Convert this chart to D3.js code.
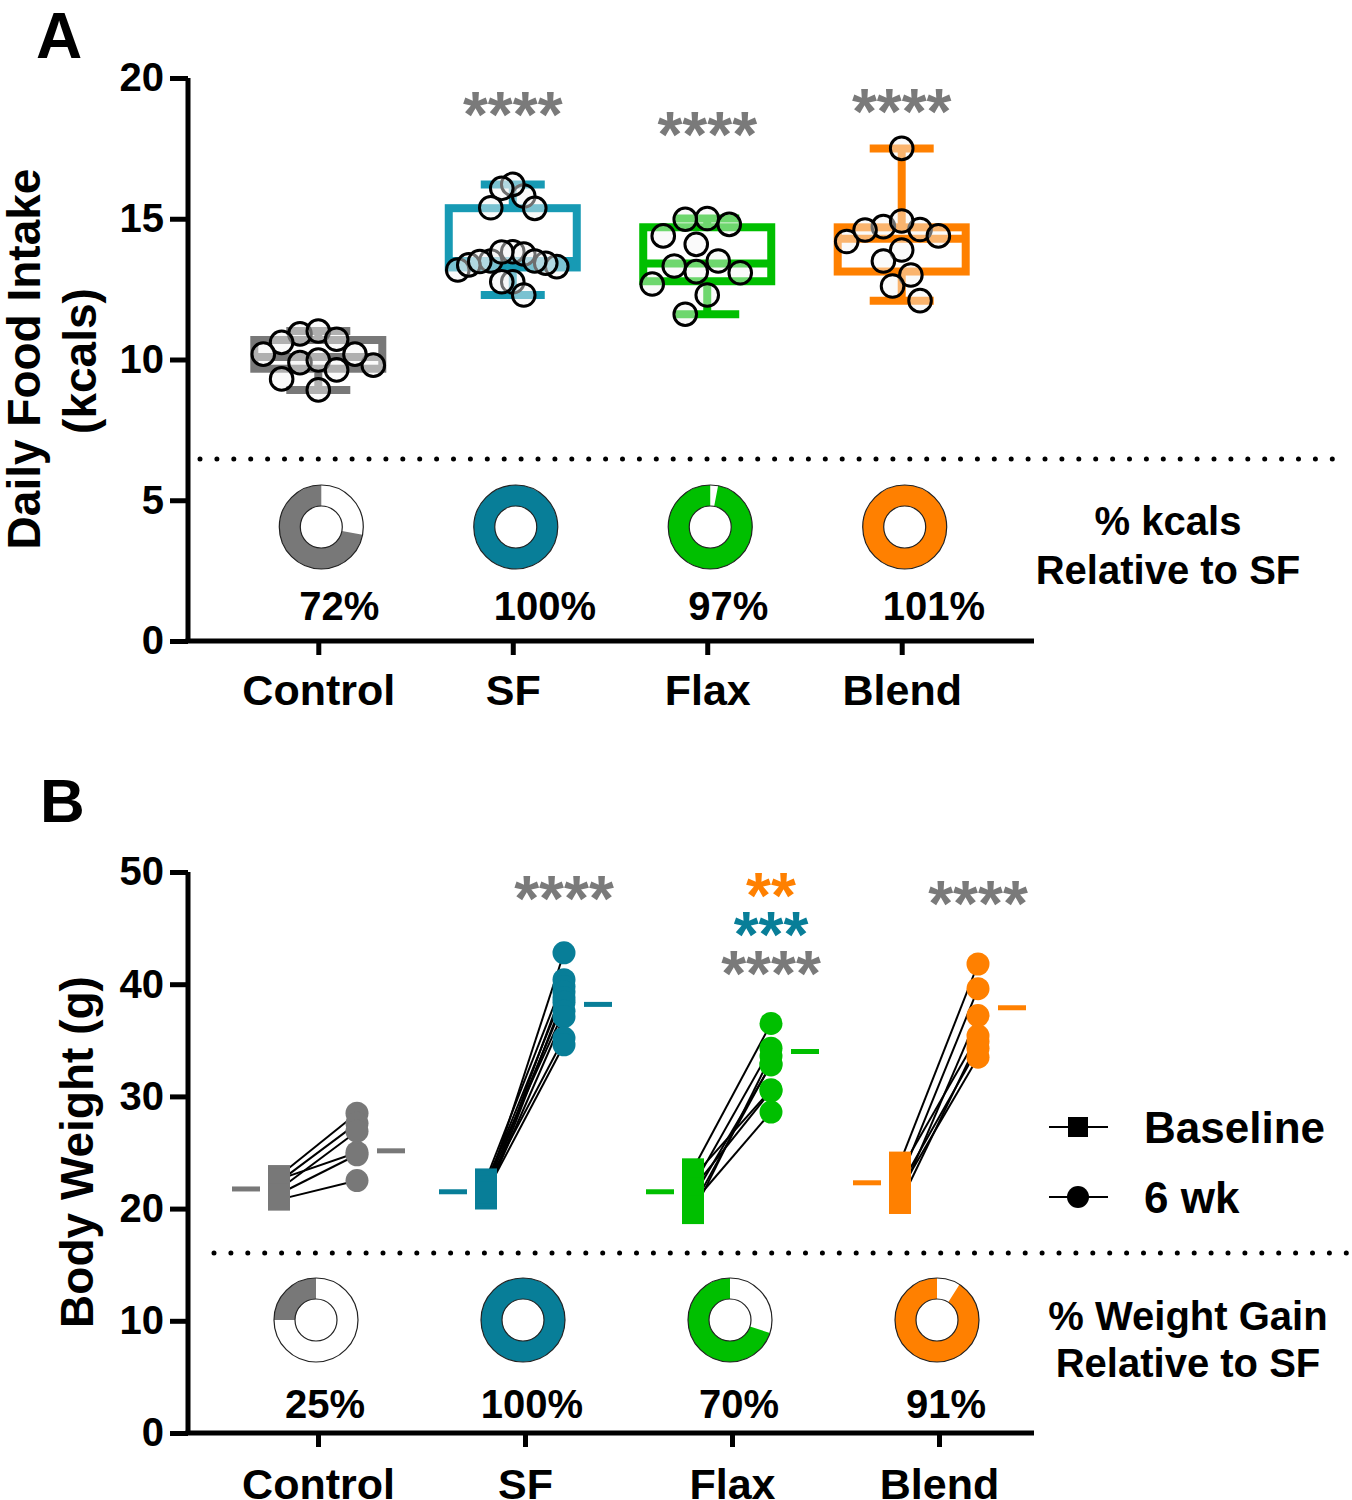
<!DOCTYPE html>
<html><head><meta charset="utf-8">
<script src="https://cdn.jsdelivr.net/npm/d3@7"></script>
<style>
body{margin:0;background:#fff}
svg{display:block}
text{font-family:"Liberation Sans",Arial,Helvetica,sans-serif;font-weight:bold}
</style>
</head><body>
<svg id="chart" width="1352" height="1500"></svg>
<script>
// ---------------- DATA ----------------
const categories = ["Control", "SF", "Flax", "Blend"];

// Panel A: daily food intake (kcals), individual animals
const intakeControl = [10.91, 11.01, 10.72, 10.61, 9.80, 10.19, 9.89, 10.19, 9.98, 9.63, 9.31, 8.92];
const intakeSF = [15.81, 16.22, 16.08, 15.39, 15.37, 13.83, 13.18, 13.30, 13.50, 13.36, 13.75, 13.82, 13.42, 13.48, 13.50, 12.76, 12.76, 12.29];
const intakeFlax = [14.80, 15.01, 14.98, 14.39, 14.09, 13.50, 13.32, 13.12, 13.08, 12.68, 12.29, 11.61];
const intakeBlend = [17.50, 14.62, 14.72, 14.92, 14.39, 14.19, 14.60, 13.89, 13.50, 13.00, 12.61, 12.09];
const intakeTicks = [0, 5, 10, 15, 20];
const kcalPercent = [72, 100, 97, 101];
const intakeStars = ["", "****", "****", "****"];
const intakeStarValue = [null, 19.04, 18.33, 19.15];

// Panel B: body weight (g), paired baseline / 6 wk
const bwBaseControl = [20.8, 22.9, 22.4, 21.7, 22.6, 21.3];
const bw6wkControl  = [22.5, 28.5, 27.6, 26.9, 25.0, 24.8];
const bwBaseSF = [21.5, 22.6, 21.0, 22.2, 20.9, 21.8, 22.4, 21.2, 22.0, 21.4];
const bw6wkSF  = [42.8, 40.4, 39.8, 39.3, 38.8, 38.4, 37.6, 37.1, 35.2, 34.6];
const bwBaseFlax = [23.5, 22.0, 19.6, 21.0, 22.8, 20.5, 21.8, 20.2];
const bw6wkFlax  = [36.5, 34.3, 33.6, 32.8, 30.6, 28.6, 30.5, 32.9];
const bwBaseBlend = [24.1, 22.5, 21.0, 23.3, 20.5, 22.0, 21.6];
const bw6wkBlend  = [41.8, 39.6, 37.2, 35.4, 34.9, 34.3, 33.5];
const bwBaseMean = [21.75, 21.5, 21.5, 22.3];
const bw6wkMean  = [25.15, 38.2, 34.0, 37.9];
const weightTicks = [0, 10, 20, 30, 40, 50];
const gainPercent = [25, 100, 70, 91];
const weightStarGroup = ["SF", "Flax", "Flax", "Flax", "Blend"];
const weightStarText  = ["****", "**", "***", "****", "****"];
const weightStarValue = [48.4, 48.66, 45.2, 41.7, 47.95];
const weightStarVs    = ["Control", "Blend", "SF", "Control", "Control"];

// ---------------- STYLE ----------------
const colA = {Control: "#787878", SF: "#179ab4", Flax: "#00bf00", Blend: "#ff8000"};
const colB = {Control: "#787878", SF: "#087e98", Flax: "#00bf00", Blend: "#ff8000"};
const starColor = {Control: "#7a7a7a", SF: "#087e98", Blend: "#ff8000"};

const svg = d3.select("#chart");
const intakeByGroup = [intakeControl, intakeSF, intakeFlax, intakeBlend];
const baseByGroup = [bwBaseControl, bwBaseSF, bwBaseFlax, bwBaseBlend];
const wk6ByGroup = [bw6wkControl, bw6wkSF, bw6wkFlax, bw6wkBlend];

// ---------------- SCALES ----------------
const yA = d3.scaleLinear().domain([0, 20]).range([641, 78]);
const xA = d3.scalePoint().domain(categories).range([188, 1032]).padding(0.67);
const yB = d3.scaleLinear().domain([0, 50]).range([1433, 872]);
const xB = d3.scalePoint().domain(categories).range([318, 939]);

function styleAxis(g, fs) {
  g.selectAll(".domain").remove();
  g.selectAll(".tick line").attr("stroke", "#000").attr("stroke-width", 5);
  g.selectAll(".tick text").attr("fill", "#000").attr("font-size", fs)
    .attr("font-family", '"Liberation Sans",Arial,sans-serif').attr("font-weight", "bold");
}

// GraphPad-like quartiles (n+1 method)
function quant(sorted, p) {
  const n = sorted.length, pos = p * (n + 1);
  if (pos <= 1) return sorted[0];
  if (pos >= n) return sorted[n - 1];
  const lo = Math.floor(pos), f = pos - lo;
  return sorted[lo - 1] + f * (sorted[lo] - sorted[lo - 1]);
}

function beeswarm(vals, cx, yScale, minD, maxHalf) {
  const order = d3.range(vals.length).sort((a, b) => d3.descending(vals[a], vals[b]));
  const placed = [], offs = new Array(vals.length);
  const step = minD / 2;
  for (const i of order) {
    const y = yScale(vals[i]);
    let k = 0, off;
    while (true) {
      off = k === 0 ? 0 : (k % 2 ? -1 : 1) * Math.ceil(k / 2) * step;
      if (placed.every(p => (p.x - off) ** 2 + (p.y - y) ** 2 >= minD * minD - 1)) break;
      k++;
    }
    placed.push({x: off, y});
    offs[i] = off;
  }
  const m = d3.max(offs, Math.abs) || 1;
  const f = Math.min(1, maxHalf / m);
  return offs.map(o => cx + o * f);
}

function dotted(y, x0, x1) {
  svg.append("line").attr("x1", x0).attr("x2", x1).attr("y1", y).attr("y2", y)
    .attr("stroke", "#000").attr("stroke-width", 5).attr("stroke-linecap", "round")
    .attr("stroke-dasharray", "0 16.9");
}

function donut(cx, cy, pct, color) {
  const g = svg.append("g").attr("transform", `translate(${cx},${cy})`);
  const arc = d3.arc().innerRadius(21).outerRadius(42);
  g.append("path").attr("d", arc({startAngle: 0, endAngle: 2 * Math.PI})).attr("fill", "#fff");
  const p = Math.min(pct, 100) / 100;
  g.append("path").attr("d", arc({startAngle: (1 - p) * 2 * Math.PI, endAngle: 2 * Math.PI}))
    .attr("fill", color);
  g.append("circle").attr("r", 42).attr("fill", "none").attr("stroke", "#222").attr("stroke-width", 1.2);
  g.append("circle").attr("r", 21).attr("fill", "none").attr("stroke", "#222").attr("stroke-width", 1.2);
}

// ================= PANEL A =================
svg.append("text").attr("x", 36).attr("y", 58).attr("font-size", 64).text("A");

dotted(459, 200, 1334);

// axes
svg.append("g").attr("transform", "translate(188,0)")
  .call(d3.axisLeft(yA).tickValues(intakeTicks).tickSize(18).tickPadding(6))
  .call(g => styleAxis(g, 40));
svg.append("line").attr("x1", 188).attr("x2", 188).attr("y1", yA(20)).attr("y2", yA(0))
  .attr("stroke", "#000").attr("stroke-width", 5);
svg.append("g").attr("transform", "translate(0,641)")
  .call(d3.axisBottom(xA).tickSize(14).tickPadding(19))
  .call(g => styleAxis(g, 43));
svg.append("line").attr("x1", 185.5).attr("x2", 1034).attr("y1", 641).attr("y2", 641)
  .attr("stroke", "#000").attr("stroke-width", 5);

// y title
svg.append("text").attr("transform", "translate(40,359) rotate(-90)")
  .attr("text-anchor", "middle").attr("font-size", 46).text("Daily Food Intake");
svg.append("text").attr("transform", "translate(96,361) rotate(-90)")
  .attr("text-anchor", "middle").attr("font-size", 46).text("(kcals)");

// boxes
categories.forEach((c, i) => {
  const vals = intakeByGroup[i].slice().sort(d3.ascending);
  const q1 = quant(vals, 0.25), med = quant(vals, 0.5), q3 = quant(vals, 0.75);
  const lo = vals[0], hi = vals[vals.length - 1];
  const cx = xA(c), hw = 64, cw = 32;
  const g = svg.append("g").attr("stroke", colA[c]).attr("stroke-width", 8).attr("fill", "none");
  g.append("line").attr("x1", cx).attr("x2", cx).attr("y1", yA(q3)).attr("y2", yA(hi));
  g.append("line").attr("x1", cx).attr("x2", cx).attr("y1", yA(q1)).attr("y2", yA(lo));
  g.append("line").attr("x1", cx - cw).attr("x2", cx + cw).attr("y1", yA(hi)).attr("y2", yA(hi));
  g.append("line").attr("x1", cx - cw).attr("x2", cx + cw).attr("y1", yA(lo)).attr("y2", yA(lo));
  g.append("rect").attr("x", cx - hw).attr("width", 2 * hw).attr("y", yA(q3)).attr("height", yA(q1) - yA(q3));
  g.append("line").attr("x1", cx - hw).attr("x2", cx + hw).attr("y1", yA(med)).attr("y2", yA(med));
});
// points
categories.forEach((c, i) => {
  const vals = intakeByGroup[i];
  const xs = beeswarm(vals, xA(c), yA, 26.5, 55);
  svg.append("g").selectAll("circle").data(vals).join("circle")
    .attr("cx", (d, j) => xs[j]).attr("cy", d => yA(d)).attr("r", 11.3)
    .attr("fill", "#f4f4f4").attr("fill-opacity", 0.45)
    .attr("stroke", "#000").attr("stroke-width", 3);
});
// stars
categories.forEach((c, i) => {
  if (!intakeStars[i]) return;
  svg.append("text").attr("x", xA(c)).attr("y", yA(intakeStarValue[i]) + 32)
    .attr("text-anchor", "middle").attr("font-size", 64).attr("fill", "#7a7a7a").text(intakeStars[i]);
});
// donuts
categories.forEach((c, i) => {
  donut(xA(c) + 3, 527, kcalPercent[i], colB[c]);
  svg.append("text").attr("x", xA(c) - 19).attr("y", 620).attr("font-size", 40)
    .text(kcalPercent[i] + "%");
});
svg.append("text").attr("x", 1168).attr("y", 535).attr("text-anchor", "middle").attr("font-size", 40).text("% kcals");
svg.append("text").attr("x", 1168).attr("y", 584).attr("text-anchor", "middle").attr("font-size", 40).text("Relative to SF");

// ================= PANEL B =================
svg.append("text").attr("x", 40).attr("y", 822).attr("font-size", 62).text("B");

dotted(1253, 214, 1348);

svg.append("g").attr("transform", "translate(188,0)")
  .call(d3.axisLeft(yB).tickValues(weightTicks).tickSize(18).tickPadding(6))
  .call(g => styleAxis(g, 40));
svg.append("line").attr("x1", 188).attr("x2", 188).attr("y1", yB(50)).attr("y2", yB(0))
  .attr("stroke", "#000").attr("stroke-width", 5);
svg.append("g").attr("transform", "translate(0,1433)")
  .call(d3.axisBottom(xB).tickSize(14).tickPadding(21))
  .call(g => styleAxis(g, 43));
svg.append("line").attr("x1", 185.5).attr("x2", 1034).attr("y1", 1433).attr("y2", 1433)
  .attr("stroke", "#000").attr("stroke-width", 5);

svg.append("text").attr("transform", "translate(93,1152) rotate(-90)")
  .attr("text-anchor", "middle").attr("font-size", 46).text("Body Weight (g)");

const dxPair = 39;
categories.forEach((c, i) => {
  const cx = xB(c), base = baseByGroup[i], wk = wk6ByGroup[i];
  const pairs = base.map((b, j) => ({b, w: wk[j]}));
  svg.append("g").selectAll("line").data(pairs).join("line")
    .attr("x1", cx - dxPair).attr("y1", d => yB(d.b))
    .attr("x2", cx + dxPair).attr("y2", d => yB(d.w))
    .attr("stroke", "#000").attr("stroke-width", 2);
  svg.append("g").selectAll("rect").data(base).join("rect")
    .attr("x", cx - dxPair - 11).attr("y", d => yB(d) - 11).attr("width", 22).attr("height", 22)
    .attr("fill", colB[c]);
  svg.append("g").selectAll("circle").data(wk).join("circle")
    .attr("cx", cx + dxPair).attr("cy", d => yB(d)).attr("r", 11.5).attr("fill", colB[c]);
  svg.append("line").attr("x1", cx - 86).attr("x2", cx - 58)
    .attr("y1", yB(bwBaseMean[i])).attr("y2", yB(bwBaseMean[i]))
    .attr("stroke", colB[c]).attr("stroke-width", 5);
  svg.append("line").attr("x1", cx + 59).attr("x2", cx + 87)
    .attr("y1", yB(bw6wkMean[i])).attr("y2", yB(bw6wkMean[i]))
    .attr("stroke", colB[c]).attr("stroke-width", 5);
});
// stars
weightStarText.forEach((t, k) => {
  svg.append("text").attr("x", xB(weightStarGroup[k]) + dxPair).attr("y", yB(weightStarValue[k]) + 31)
    .attr("text-anchor", "middle").attr("font-size", 64).attr("fill", starColor[weightStarVs[k]]).text(t);
});
// donuts
categories.forEach((c, i) => {
  donut(xB(c) - 2, 1320, gainPercent[i], colB[c]);
  svg.append("text").attr("x", xB(c) + 7).attr("y", 1418).attr("text-anchor", "middle")
    .attr("font-size", 40).text(gainPercent[i] + "%");
});
svg.append("text").attr("x", 1188).attr("y", 1330).attr("text-anchor", "middle").attr("font-size", 40).text("% Weight Gain");
svg.append("text").attr("x", 1188).attr("y", 1377).attr("text-anchor", "middle").attr("font-size", 40).text("Relative to SF");

// legend
const leg = [{label: "Baseline", y: 1127, shape: "square"}, {label: "6 wk", y: 1197, shape: "circle"}];
leg.forEach(l => {
  svg.append("line").attr("x1", 1049).attr("x2", 1108).attr("y1", l.y).attr("y2", l.y)
    .attr("stroke", "#000").attr("stroke-width", 2);
  if (l.shape === "square")
    svg.append("rect").attr("x", 1068).attr("y", l.y - 10).attr("width", 20).attr("height", 20).attr("fill", "#000");
  else
    svg.append("circle").attr("cx", 1078).attr("cy", l.y).attr("r", 11).attr("fill", "#000");
  svg.append("text").attr("x", 1144).attr("y", l.y + 16).attr("font-size", 44).text(l.label);
});
</script>
</body></html>
